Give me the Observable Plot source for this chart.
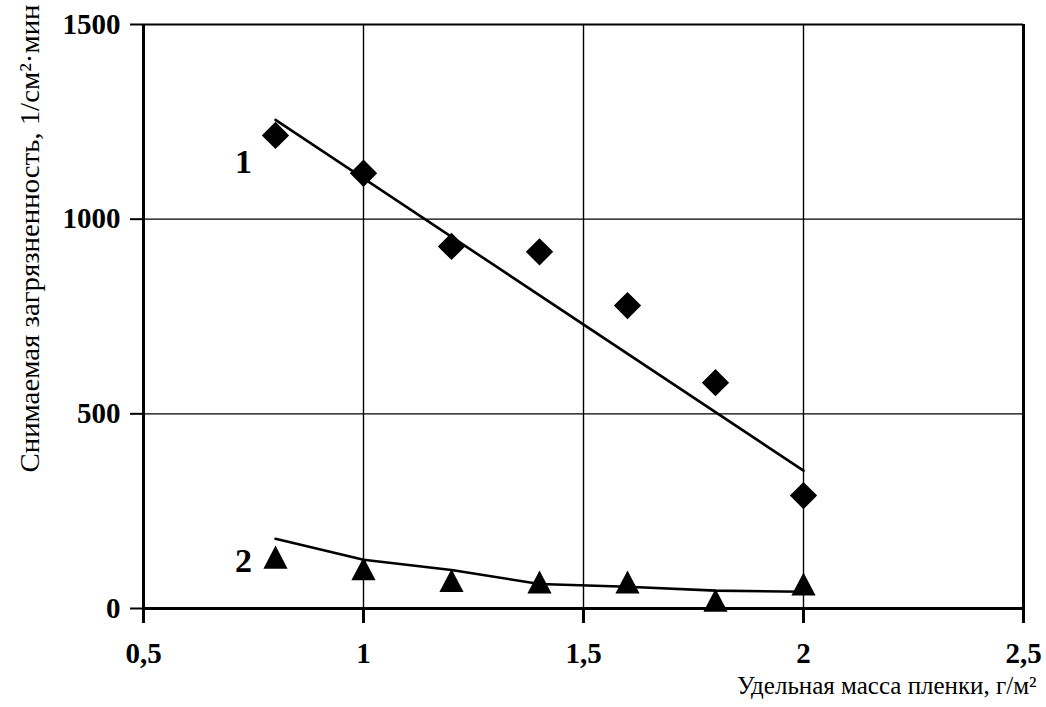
<!DOCTYPE html>
<html>
<head>
<meta charset="utf-8">
<script src="https://cdn.jsdelivr.net/npm/d3@7"></script>
<script src="https://cdn.jsdelivr.net/npm/@observablehq/plot@0.6"></script>
<style>
  html, body { margin: 0; padding: 0; background: #fff; }
  svg text { font-family: 'Liberation Serif', 'DejaVu Serif', serif !important; }
</style>
</head>
<body>
<div id="chart"></div>
<script>
// ---- data ----
const xTicks = [0.5, 1, 1.5, 2, 2.5];
const yTicks = [0, 500, 1000, 1500];
const xGrid = [1, 1.5, 2];
const yGrid = [500, 1000];

const massX = [0.8, 1.0, 1.2, 1.4, 1.6, 1.8, 2.0];
const series1 = [1215, 1118, 930, 916, 778, 580, 290];   // diamonds (curve 1)
const series2 = [132, 102, 72, 68, 68, 21, 63];          // triangles (curve 2)

const trend1X = [0.8, 2.0];
const trend1Y = [1255, 354];                              // straight trend, curve 1
const trend2Y = [179, 125, 99, 63, 56, 46, 43];           // trend, curve 2

const curveLabels = ["1", "2"];
const curveLabelX = [0.7275, 0.7275];
const curveLabelY = [1146, 123];

const xTitle = "Удельная масса пленки, г/м²";
const yTitle = "Снимаемая загрязненность, 1/см²·мин";

// ---- tables built from the arrays ----
const pts1 = massX.map((x, i) => ({x, y: series1[i]}));
const pts2 = massX.map((x, i) => ({x, y: series2[i]}));
const tr1 = trend1X.map((x, i) => ({x, y: trend1Y[i]}));
const tr2 = massX.map((x, i) => ({x, y: trend2Y[i]}));
const lbls = curveLabels.map((t, i) => ({t, x: curveLabelX[i], y: curveLabelY[i]}));

const fmt = d => String(d).replace(".", ",");

// triangle centred on its bounding box (as in the source chart)
const triangleBox = {
  draw(ctx, size) {
    const h = Math.sqrt(size) / 2;
    ctx.moveTo(0, -h);
    ctx.lineTo(h * 1.05, h);
    ctx.lineTo(-h * 1.05, h);
    ctx.closePath();
  }
};

const font = "Liberation Serif";

const chart = Plot.plot({
  width: 1046,
  height: 707,
  marginLeft: 143,
  marginRight: 23,
  marginTop: 24,
  marginBottom: 99,
  style: {fontFamily: font, background: "#fff", color: "#000", overflow: "visible"},
  x: {domain: [0.5, 2.5]},
  y: {domain: [0, 1500]},
  marks: [
    // grid
    Plot.ruleX(xGrid, {stroke: "#000", strokeWidth: 1.4}),
    Plot.ruleY(yGrid, {stroke: "#000", strokeWidth: 1.4}),
    Plot.ruleY([yTicks[3]], {stroke: "#000", strokeWidth: 2}),
    Plot.ruleX([xTicks[4]], {stroke: "#000", strokeWidth: 3}),
    // axes lines
    Plot.ruleX([xTicks[0]], {stroke: "#000", strokeWidth: 3}),
    Plot.ruleY([yTicks[0]], {stroke: "#000", strokeWidth: 3}),
    Plot.axisX(xTicks, {
      tickSize: 15, tickPadding: 19, tickFormat: fmt, label: null,
      fontSize: 29, fontWeight: "bold", fontFamily: font, strokeWidth: 3
    }),
    Plot.axisY(yTicks, {
      tickSize: 13, tickPadding: 10, tickFormat: fmt, label: null,
      fontSize: 29, fontWeight: "bold", fontFamily: font, strokeWidth: 2
    }),
    // trend lines
    Plot.line(tr1, {x: "x", y: "y", stroke: "#000", strokeWidth: 2.6}),
    Plot.line(tr2, {x: "x", y: "y", stroke: "#000", strokeWidth: 2.6}),
    // markers
    Plot.dot(pts1, {x: "x", y: "y", symbol: "diamond2", r: 12.3, fill: "#000", stroke: null}),
    Plot.dot(pts2, {x: "x", y: "y", symbol: triangleBox, r: 13, fill: "#000", stroke: null}),
    // curve numbers
    Plot.text(lbls, {x: "x", y: "y", text: "t", fontSize: 34, fontWeight: "bold", fontFamily: font, fill: "#000"}),
    // axis titles
    Plot.text([xTitle], {
      frameAnchor: "bottom-right", textAnchor: "end", lineAnchor: "bottom",
      dx: 13, dy: 85, fontSize: 25, fontFamily: font, fill: "#000"
    }),
    Plot.text([yTitle], {
      frameAnchor: "left", rotate: -90, textAnchor: "middle", lineAnchor: "bottom",
      dx: -105, dy: -78, fontSize: 28, fontFamily: font, fill: "#000"
    })
  ]
});

// fit the rotated y title to the span it has in the source (≈470 px)
d3.select(chart).selectAll("text")
  .filter(function () { return this.textContent === yTitle; })
  .attr("textLength", 468)
  .attr("lengthAdjust", "spacingAndGlyphs");

document.getElementById("chart").appendChild(chart);
</script>
</body>
</html>
